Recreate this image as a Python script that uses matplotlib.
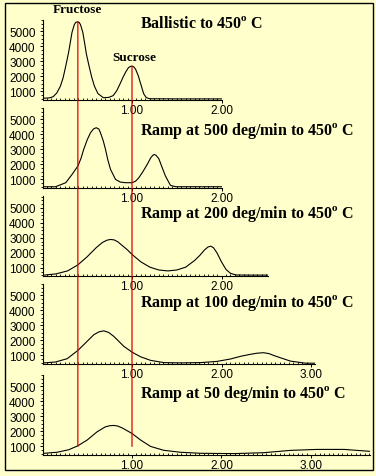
"""
Cromatogramas frutose / sacarose a diferentes rampas de aquecimento.
"""
import matplotlib
matplotlib.use('Agg')
import matplotlib.pyplot as plt
from matplotlib.patches import ConnectionPatch, Rectangle

plt.rcParams['mathtext.fontset'] = 'custom'
plt.rcParams['mathtext.rm'] = 'Liberation Serif'
plt.rcParams['mathtext.bf'] = 'Liberation Serif:bold'

# ---- Dados ----
titles = [
    r'Ballistic to 450$^{\mathbf{o}}$ C',
    r'Ramp at 500 deg/min to 450$^{\mathbf{o}}$ C',
    r'Ramp at 200 deg/min to 450$^{\mathbf{o}}$ C',
    r'Ramp at 100 deg/min to 450$^{\mathbf{o}}$ C',
    r'Ramp at 50 deg/min to 450$^{\mathbf{o}}$ C',
]
x_max = [2.0, 2.0, 2.52, 3.05, 3.66]

ballistic_t = [0.01, 0.08, 0.12, 0.16, 0.20, 0.23, 0.26, 0.29, 0.31, 0.33, 0.355,
               0.37, 0.39, 0.41, 0.425, 0.45, 0.47, 0.49, 0.52, 0.55, 0.58, 0.62,
               0.68, 0.74, 0.79, 0.83, 0.87, 0.90, 0.93, 0.96, 0.98, 1.00, 1.02,
               1.04, 1.07, 1.10, 1.13, 1.16, 1.20, 1.50, 2.00]
ballistic_sig = [540, 570, 650, 900, 1350, 1900, 2700, 3550, 4250, 4950, 5450,
                 5600, 5650, 5600, 5450, 4950, 4250, 3500, 2700, 1950, 1350, 850,
                 580, 600, 720, 1050, 1550, 1950, 2300, 2580, 2660, 2690, 2640,
                 2480, 2050, 1450, 850, 580, 510, 500, 500]

ramp500_t = [0.015, 0.145, 0.26, 0.33, 0.395, 0.43, 0.46, 0.50, 0.536, 0.57,
             0.60, 0.63, 0.648, 0.68, 0.704, 0.73, 0.76, 0.816, 0.87, 0.93,
             1.00, 1.04, 1.076, 1.12, 1.17, 1.21, 1.235, 1.25, 1.27, 1.30,
             1.33, 1.374, 1.43, 1.49, 2.00]
ramp500_sig = [510, 510, 780, 1330, 1890, 2400, 3000, 3650, 4110, 4370,
               4450, 4360, 4110, 3550, 3000, 2300, 1670, 1000, 820, 780,
               780, 880, 1110, 1500, 2000, 2450, 2620, 2670, 2600, 2380,
               1900, 1220, 600, 510, 510]

ramp200_t = [0.02, 0.15, 0.28, 0.395, 0.50, 0.60, 0.67, 0.72, 0.76, 0.80, 0.84,
             0.88, 0.95, 1.00, 1.10, 1.20, 1.30, 1.40, 1.50, 1.60, 1.70, 1.76,
             1.81, 1.85, 1.88, 1.91, 1.95, 2.00, 2.05, 2.10, 2.16, 2.30, 2.52]
ramp200_sig = [520, 600, 800, 1200, 1750, 2350, 2700, 2850, 2900, 2870, 2750,
               2550, 2200, 1900, 1400, 1050, 860, 800, 860, 1050, 1500, 1850,
               2200, 2400, 2450, 2350, 2000, 1400, 900, 640, 530, 520, 520]

ramp100_t = [0.015, 0.145, 0.275, 0.395, 0.48, 0.573, 0.63, 0.685, 0.74, 0.797,
             0.908, 1.00, 1.095, 1.207, 1.355, 1.54, 1.77, 1.95, 2.10, 2.22,
             2.32, 2.40, 2.47, 2.53, 2.60, 2.77, 2.94, 3.05]
ramp100_sig = [500, 560, 780, 1330, 1830, 2380, 2570, 2640, 2530, 2270,
               1610, 1220, 910, 670, 520, 500, 520, 600, 760, 950,
               1070, 1150, 1180, 1120, 960, 620, 480, 480]

ramp50_t = [0.015, 0.164, 0.294, 0.395, 0.50, 0.61, 0.70, 0.75, 0.797, 0.84,
            0.89, 1.00, 1.095, 1.207, 1.355, 1.54, 1.77, 2.14, 2.47, 2.77,
            3.07, 3.37, 3.66]
ramp50_sig = [540, 610, 780, 1040, 1430, 1975, 2300, 2380, 2400, 2360,
              2235, 1865, 1430, 1000, 740, 610, 540, 520, 580, 735,
              800, 800, 670]

series = [
    (ballistic_t, ballistic_sig),
    (ramp500_t, ramp500_sig),
    (ramp200_t, ramp200_sig),
    (ramp100_t, ramp100_sig),
    (ramp50_t, ramp50_sig),
]

y_ticks = [1000, 2000, 3000, 4000, 5000]
x_ticks = [1.0, 2.0, 3.0]

fructose_t, fructose_top = 0.395, 5650
sucrose_t, sucrose_top = 1.0, 2690
marker_bottom = 1000

# ---- Layout (pixels) ----
W, H = 376, 477
BG = '#FFFFCC'
X0 = 42.5
PX_PER_UNIT = 89.5
AX_H = 80
bottoms = [100.5, 188.5, 277, 364.5, 455.5]
title_base = [28.3, 135, 217.5, 307.3, 397.5]
title_left = 140

fig = plt.figure(figsize=(W / 100, H / 100), dpi=100, facecolor=BG)

axes = []
for i, (t, s) in enumerate(series):
    ax = fig.add_axes([X0 / W, 1 - bottoms[i] / H,
                       x_max[i] * PX_PER_UNIT / W, AX_H / H])
    ax.set_facecolor('none')
    ax.plot(t, s, color='black', lw=0.8)
    ax.set_xlim(0, x_max[i])
    ax.set_ylim(460, 5800)
    for side in ('top', 'right'):
        ax.spines[side].set_visible(False)
    ax.spines['left'].set_linewidth(0.8)
    ax.spines['bottom'].set_linewidth(0.8)

    xt = [v for v in x_ticks if v <= x_max[i] + 1e-6]
    ax.set_xticks(xt)
    ax.set_xticklabels([f'{v:.2f}' for v in xt])
    ax.set_xticks([k * 0.05 for k in range(1, int(x_max[i] / 0.05) + 1)], minor=True)
    ax.set_yticks(y_ticks)
    ax.set_yticklabels([str(v) for v in y_ticks])
    ax.set_yticks(list(range(500, 5800, 250)), minor=True)

    ax.tick_params(axis='x', which='major', length=2, width=0.7, pad=1,
                   labelsize=8.5, direction='out')
    ax.tick_params(axis='x', which='minor', length=1.2, width=0.6, direction='in')
    ax.tick_params(axis='y', which='major', length=2, width=0.7, pad=3,
                   labelsize=8.5)
    ax.tick_params(axis='y', which='minor', length=1.2, width=0.6)
    for lab in ax.get_xticklabels() + ax.get_yticklabels():
        lab.set_fontfamily('Liberation Sans')

    fig.text(title_left / W, 1 - title_base[i] / H, titles[i],
             fontsize=11.5, fontweight='bold', family='Liberation Serif',
             va='baseline', ha='left')
    axes.append(ax)

# linhas de referência (frutose / sacarose)
for t0, top in ((fructose_t, fructose_top), (sucrose_t, sucrose_top)):
    con = ConnectionPatch(xyA=(t0, top), coordsA=axes[0].transData,
                          xyB=(t0, marker_bottom), coordsB=axes[-1].transData,
                          color='#E00000', lw=0.9, zorder=5)
    fig.add_artist(con)

axes[0].annotate('Fructose', (fructose_t, fructose_top), xytext=(0, 5),
                 textcoords='offset points', ha='center', va='bottom',
                 fontsize=9.5, fontweight='bold', family='Liberation Serif')
axes[0].annotate('Sucrose', (sucrose_t, sucrose_top), xytext=(2, 2),
                 textcoords='offset points', ha='center', va='bottom',
                 fontsize=9.5, fontweight='bold', family='Liberation Serif')

fig.add_artist(Rectangle((5 / W, 1 - 471 / H), 368 / W, 467 / H,
                         transform=fig.transFigure, fill=False,
                         edgecolor='black', lw=1.0))

fig.savefig('out.png', dpi=100, facecolor=BG)
